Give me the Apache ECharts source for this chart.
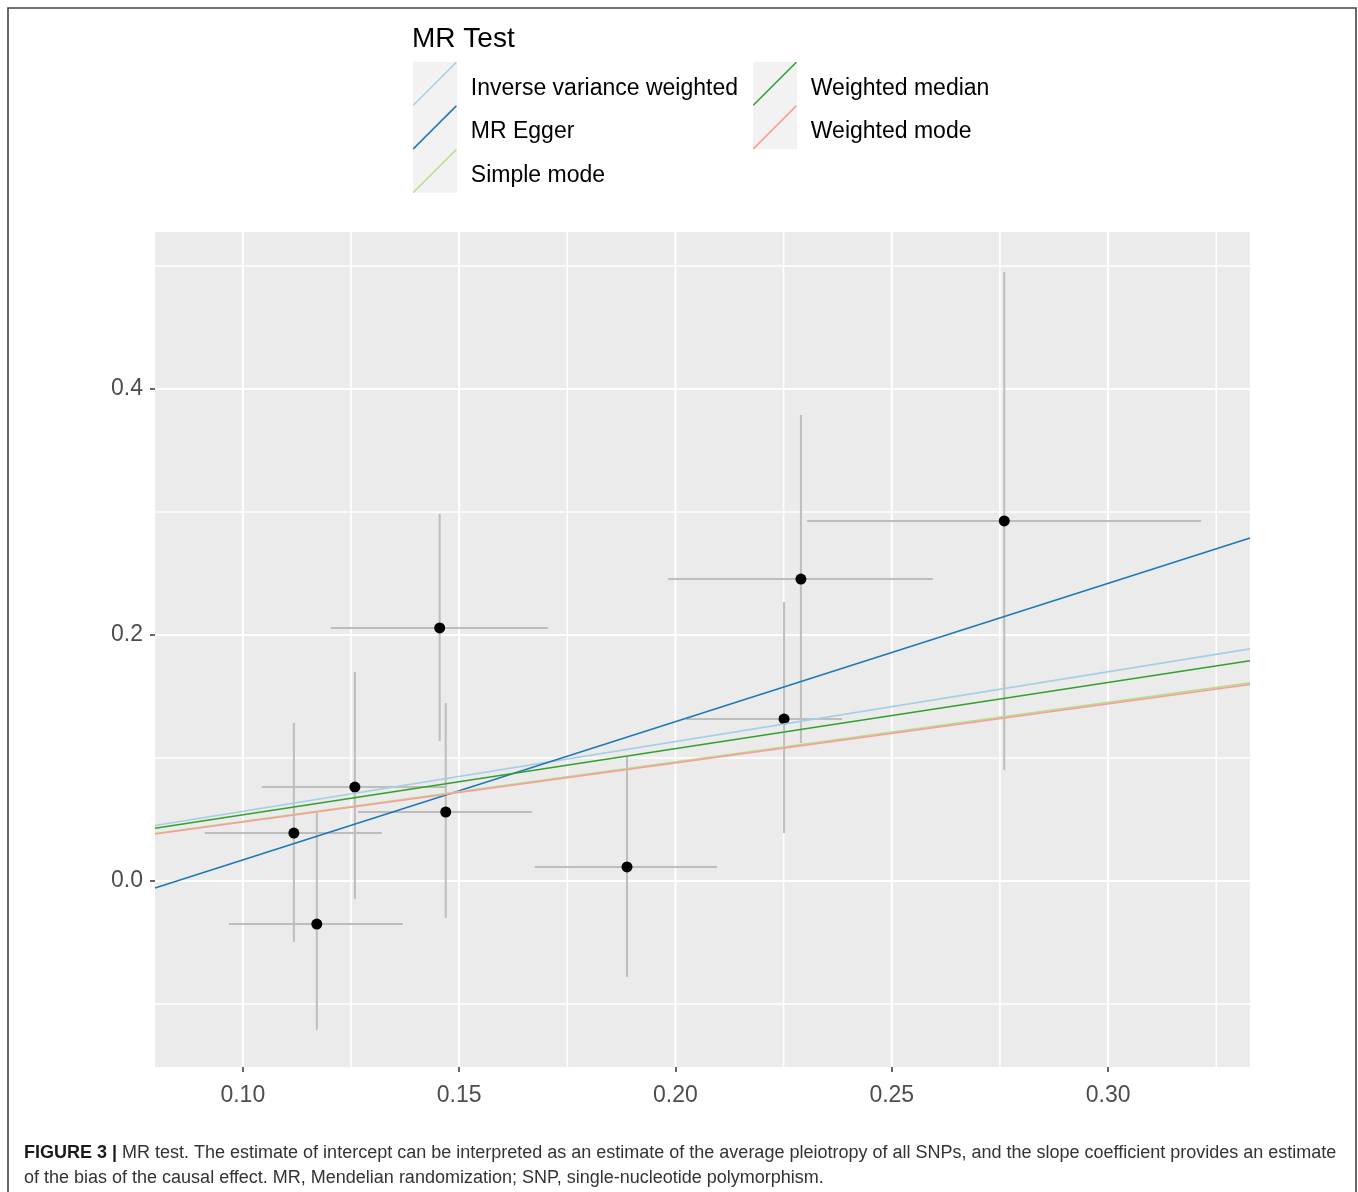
<!DOCTYPE html>
<html>
<head>
<meta charset="utf-8">
<script src="https://cdn.jsdelivr.net/npm/echarts@6/dist/echarts.min.js"></script>
<style>
  html, body { margin: 0; padding: 0; background: #ffffff; }
  #chart { width: 1358px; height: 1192px; }
</style>
</head>
<body>
<div id="chart"></div>
<script>
// ---- data ----
const snpX    = [0.1118, 0.1171, 0.1259, 0.1455, 0.1469, 0.1888, 0.2251, 0.2290, 0.2760];
const snpY    = [0.0390, -0.0350, 0.0764, 0.2057, 0.0561, 0.0114, 0.1317, 0.2455, 0.2927];
const snpXlo  = [0.0912, 0.0968, 0.1044, 0.1203, 0.1266, 0.1675, 0.2024, 0.1983, 0.2304];
const snpXhi  = [0.1321, 0.1370, 0.1469, 0.1705, 0.1668, 0.2096, 0.2385, 0.2595, 0.3215];
const snpYlo  = [-0.0496, -0.1211, -0.0146, 0.1138, -0.0301, -0.0780, 0.0390, 0.1122, 0.0902];
const snpYhi  = [0.1285, 0.0553, 0.1699, 0.2984, 0.1447, 0.1008, 0.2268, 0.3789, 0.4951];

const methods    = ['Inverse variance weighted', 'MR Egger', 'Simple mode', 'Weighted median', 'Weighted mode'];
const intercepts = [0, -0.0953, 0, 0, 0];
const slopes     = [0.567, 1.1245, 0.484, 0.538, 0.480];
const methodColors = ['#a6cee3', '#1f78b4', '#b2df8a', '#33a02c', '#fb9a99'];

const xRange = [0.0797, 0.3328];
const yRange = [-0.1512, 0.5276];
const xTicks = [0.10, 0.15, 0.20, 0.25, 0.30];
const yTicks = [0.0, 0.2, 0.4];
const xGridMajor = [0.10, 0.15, 0.20, 0.25, 0.30];
const xGridMinor = [0.125, 0.175, 0.225, 0.275, 0.325];
const yGridMajor = [0.0, 0.2, 0.4];
const yGridMinor = [-0.1, 0.1, 0.3, 0.5];

// ---- chart ----
const chart = echarts.init(document.getElementById('chart'), null, { renderer: 'canvas' });

const errData = snpX.map((x, i) => [x, snpY[i], snpXlo[i], snpXhi[i], snpYlo[i], snpYhi[i]]);
const ptData = snpX.map((x, i) => [x, snpY[i]]);

// gridline records: [value, orientation (0 = vertical / x, 1 = horizontal / y), major flag]
const gridData = [].concat(
  xGridMajor.map(v => [v, 0, 1]),
  xGridMinor.map(v => [v, 0, 0]),
  yGridMajor.map(v => [v, 1, 1]),
  yGridMinor.map(v => [v, 1, 0])
);

const barColor = '#bdbdbd';
const FONT = '"Liberation Sans", Arial, sans-serif';

const lineSeries = methods.map((m, i) => ({
  name: m,
  type: 'line',
  z: 10 + i,
  showSymbol: false,
  symbol: 'none',
  silent: true,
  color: methodColors[i],
  itemStyle: { color: methodColors[i] },
  lineStyle: { color: methodColors[i], width: 1.6 },
  data: xRange.map(x => [x, intercepts[i] + slopes[i] * x]),
  animation: false
}));

const legendIcon = 'path://M0,100 L0,97.5 L97.5,0 L100,0 L100,2.5 L2.5,100 Z';
const legendText = {
  fontFamily: FONT, fontSize: 23, color: '#000000', padding: [0, 0, 0, 9],
  rich: { t: { fontFamily: FONT, fontSize: 23, color: '#000000', padding: [9, 0, 0, 0] } }
};
const legendFormatter = name => '{t|' + name + '}';

const option = {
  animation: false,
  backgroundColor: '#ffffff',
  textStyle: { fontFamily: FONT },
  grid: {
    left: 155, top: 232, width: 1095, height: 835,
    show: true, backgroundColor: '#ebebeb', borderWidth: 0
  },
  xAxis: {
    type: 'value',
    min: xRange[0], max: xRange[1],
    axisLine: { show: false, onZero: false },
    splitLine: { show: false },
    axisTick: { show: true, length: 5, lineStyle: { color: '#333333', width: 1.5 }, customValues: xTicks },
    axisLabel: {
      customValues: xTicks,
      fontSize: 23, color: '#4d4d4d', margin: 17,
      formatter: v => v.toFixed(2)
    }
  },
  yAxis: {
    type: 'value',
    min: yRange[0], max: yRange[1],
    axisLine: { show: false, onZero: false },
    splitLine: { show: false },
    axisTick: { show: true, length: 5, lineStyle: { color: '#333333', width: 1.5 }, customValues: yTicks },
    axisLabel: {
      customValues: yTicks,
      fontSize: 23, color: '#4d4d4d', margin: 12,
      formatter: v => v.toFixed(1)
    }
  },
  legend: [
    {
      data: methods.slice(0, 3),
      orient: 'vertical', left: 413, top: 62,
      itemWidth: 44, itemHeight: 43.6, itemGap: 0, padding: 0,
      icon: legendIcon, selectedMode: false,
      formatter: legendFormatter,
      textStyle: legendText
    },
    {
      data: methods.slice(3),
      orient: 'vertical', left: 753, top: 62,
      itemWidth: 44, itemHeight: 43.6, itemGap: 0, padding: 0,
      icon: legendIcon, selectedMode: false,
      formatter: legendFormatter,
      textStyle: legendText
    }
  ],
  graphic: [
    { type: 'rect', z: 0, silent: true, shape: { x: 8, y: 8, width: 1348, height: 1210 },
      style: { fill: 'none', stroke: '#444444', lineWidth: 1.6 } },
    { type: 'text', z: 5, silent: true, left: 412, top: 25,
      style: { text: 'MR Test', font: '28px ' + FONT, fill: '#000000' } },
    { type: 'rect', z: 1, silent: true, shape: { x: 413, y: 62, width: 44, height: 130.8 }, style: { fill: '#f2f2f2' } },
    { type: 'rect', z: 1, silent: true, shape: { x: 753, y: 62, width: 44, height: 87.2 }, style: { fill: '#f2f2f2' } },
    { type: 'text', z: 5, silent: true, left: 24, top: 1144,
      style: {
        text: '{b|FIGURE 3 |} MR test. The estimate of intercept can be interpreted as an estimate of the average pleiotropy of all SNPs, and the slope coefficient provides an estimate',
        font: '18px ' + FONT, fill: '#333333',
        rich: { b: { fontWeight: 'bold', fontSize: 18, fill: '#1a1a1a', fontFamily: FONT } }
      } },
    { type: 'text', z: 5, silent: true, left: 24, top: 1169,
      style: {
        text: 'of the bias of the causal effect. MR, Mendelian randomization; SNP, single-nucleotide polymorphism.',
        font: '18px ' + FONT, fill: '#333333'
      } }
  ],
  series: [
    {
      name: 'gridlines',
      type: 'custom',
      z: 1,
      silent: true,
      clip: true,
      data: gridData,
      renderItem: function (params, api) {
        const cs = params.coordSys;
        const v = api.value(0);
        const horiz = api.value(1) === 1;
        const w = api.value(2) === 1 ? 2 : 1.6;
        let shape;
        if (horiz) {
          const p = api.coord([xRange[0], v]);
          shape = { x1: cs.x, y1: p[1], x2: cs.x + cs.width, y2: p[1] };
        } else {
          const p = api.coord([v, yRange[0]]);
          shape = { x1: p[0], y1: cs.y, x2: p[0], y2: cs.y + cs.height };
        }
        return { type: 'line', shape: shape, style: { stroke: '#ffffff', lineWidth: w } };
      }
    },
    {
      name: 'errorbars',
      type: 'custom',
      z: 3,
      silent: true,
      data: errData,
      renderItem: function (params, api) {
        const c = api.coord([api.value(0), api.value(1)]);
        const xl = api.coord([api.value(2), api.value(1)]);
        const xh = api.coord([api.value(3), api.value(1)]);
        const yl = api.coord([api.value(0), api.value(4)]);
        const yh = api.coord([api.value(0), api.value(5)]);
        return {
          type: 'group',
          children: [
            { type: 'line', shape: { x1: xl[0], y1: c[1], x2: xh[0], y2: c[1] }, style: { stroke: barColor, lineWidth: 2 } },
            { type: 'line', shape: { x1: c[0], y1: yl[1], x2: c[0], y2: yh[1] }, style: { stroke: barColor, lineWidth: 2 } }
          ]
        };
      }
    },
    {
      name: 'SNPs',
      type: 'scatter',
      z: 5,
      silent: true,
      symbol: 'circle',
      symbolSize: 11,
      itemStyle: { color: '#000000', opacity: 1 },
      data: ptData
    }
  ].concat(lineSeries)
};

chart.setOption(option);
</script>
</body>
</html>
